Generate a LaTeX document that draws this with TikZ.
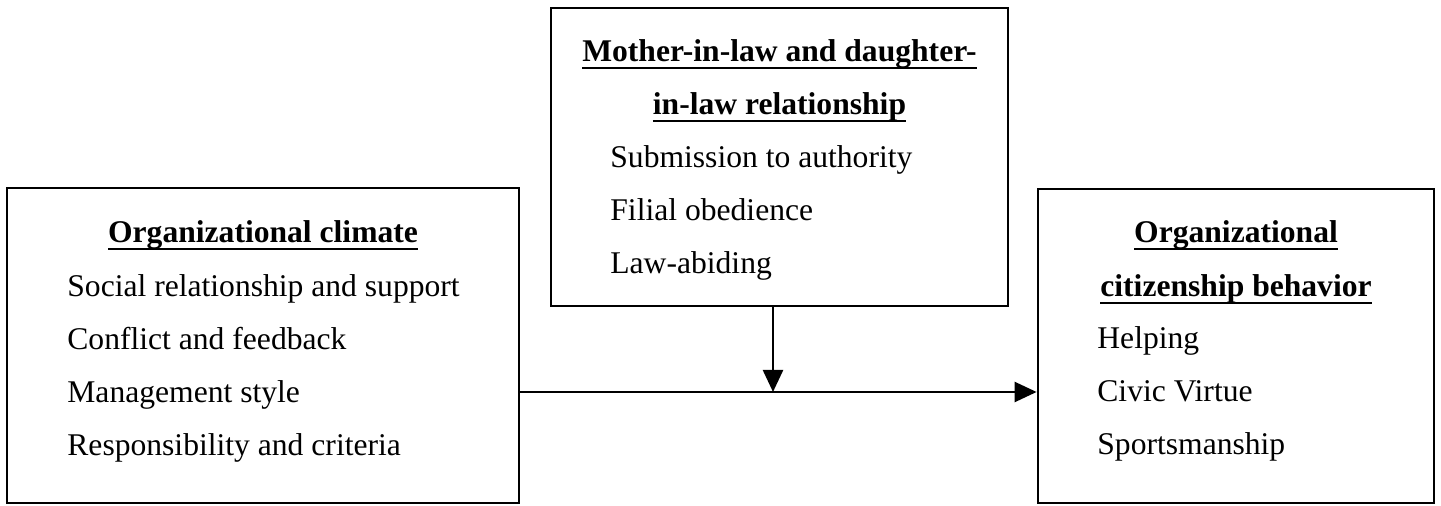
\documentclass[tikz,border=0pt]{standalone}
\usepackage{fontspec}
\setmainfont{Liberation Serif}
\usetikzlibrary{positioning,arrows.meta}
\newcommand{\headline}[1]{\setbox0\hbox{#1}\rlap{\vrule height -2.6pt depth 3.4pt width \wd0}\box0}

\begin{document}
\begin{tikzpicture}[x=0.5pt,y=-0.5pt]
	\tikzstyle{varbox} = [rectangle, draw, line width = 1.4pt, inner sep = 0pt];
	\tikzstyle{head} = [anchor = base, inner sep = 0pt, font = \fontsize{15.8}{26.5}\selectfont\bfseries];
	\tikzstyle{item} = [anchor = base west, inner sep = 0pt, font = \fontsize{15.8}{26.5}\selectfont];
	\tikzstyle{flow} = [draw, line width = 1.2pt, -{Triangle[length = 11pt, width = 10pt]}];
	\useasboundingbox (0,0) rectangle (1441,506);
	% the three boxes
	\node (clim) at (263,345.5) [varbox, minimum width = 256pt, minimum height = 157.5pt] {};
	\node (mil) at (779.5,157) [varbox, minimum width = 228.5pt, minimum height = 149pt] {};
	\node (ocb) at (1236,346) [varbox, minimum width = 198pt, minimum height = 157pt] {};
	% headings
	\node (climhead) at (263,243) [head] {\headline{Organizational climate}};
	\node (milhead1) at (779.5,62) [head] {\headline{Mother-in-law and daughter-}};
	\node (milhead2) at (779.5,115) [head] {\headline{in-law relationship}};
	\node (ocbhead1) at (1236,243) [head] {\headline{Organizational}};
	\node (ocbhead2) at (1236,297) [head] {\headline{citizenship behavior}};
	% dimensions
	\foreach \txt [count = \i] in {Social relationship and support, Conflict and feedback, Management style, Responsibility and criteria}
		\node (clim-\i) at (67,{297+53*(\i-1)}) [item] {\txt};
	\foreach \txt [count = \i] in {Submission to authority, Filial obedience, Law-abiding}
		\node (mil-\i) at (610,{168+53*(\i-1)}) [item] {\txt};
	\foreach \txt [count = \i] in {Helping, Civic Virtue, Sportsmanship}
		\node (ocb-\i) at (1097,{349+53*(\i-1)}) [item] {\txt};
	% arrows
	\coordinate (join) at (773,392);
	\path [flow] (clim.east |- join) -- (ocb.west |- join);
	\path [flow] (mil.south -| join) -- (join);
\end{tikzpicture}
\end{document}
